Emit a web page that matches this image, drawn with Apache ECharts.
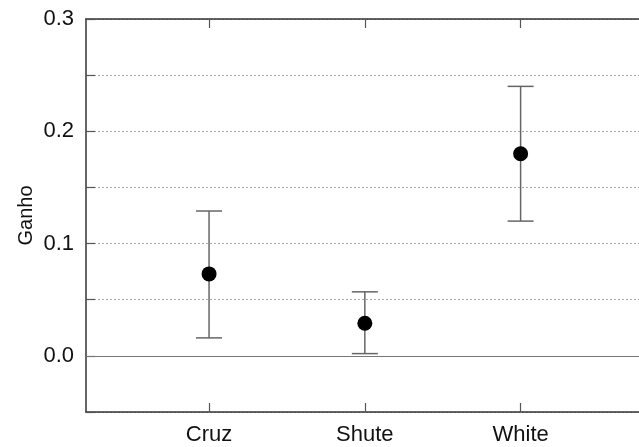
<!DOCTYPE html>
<html>
<head>
<meta charset="utf-8">
<script src="https://cdn.jsdelivr.net/npm/echarts@6/dist/echarts.min.js"></script>
<style>html,body{margin:0;padding:0;background:#fff}#c{width:639px;height:447px}</style>
</head>
<body>
<div id="c"></div>
<script>
const categories = ['Cruz', 'Shute', 'White'];
const xPositions = [1, 2, 3];
const means = [0.073, 0.029, 0.180];
const lower = [0.016, 0.002, 0.120];
const upper = [0.129, 0.057, 0.240];
const yLabelTicks = [0.0, 0.1, 0.2, 0.3];

const chart = echarts.init(document.getElementById('c'));
const font = 'Liberation Sans, Arial, sans-serif';
const axisColor = '#333';

const errData = xPositions.map((x, i) => [x, lower[i], upper[i]]);
const meanData = xPositions.map((x, i) => [x, means[i]]);

chart.setOption({
  animation: false,
  grid: { left: 86, top: 19, bottom: 35, right: -4, containLabel: false },
  xAxis: [{
    type: 'value', min: 0.21, max: 3.76, position: 'bottom',
    axisLine: { show: true, onZero: false, lineStyle: { color: axisColor, width: 1.5 } },
    axisTick: { show: true, inside: true, length: 9, customValues: xPositions, lineStyle: { color: '#555', width: 1.2 } },
    axisLabel: { show: true, customValues: xPositions, margin: 12, fontSize: 22, color: '#111', fontFamily: font,
      formatter: v => categories[xPositions.indexOf(Math.round(v))] || '' },
    splitLine: { show: false }
  }, {
    type: 'value', min: 0.21, max: 3.76, position: 'top',
    axisLine: { show: true, onZero: false, lineStyle: { color: axisColor, width: 1.5 } },
    axisTick: { show: true, inside: true, length: 9, customValues: xPositions, lineStyle: { color: '#555', width: 1.2 } },
    axisLabel: { show: false },
    splitLine: { show: false }
  }],
  yAxis: {
    type: 'value', min: -0.05, max: 0.3, interval: 0.05,
    name: 'Ganho', nameLocation: 'middle', nameGap: 50, nameRotate: 90, nameMoveOverlap: false,
    nameTextStyle: { fontSize: 20, color: '#111', fontFamily: font },
    axisLine: { show: true, onZero: false, lineStyle: { color: axisColor, width: 1.5 } },
    axisTick: { show: true, inside: true, length: 9, lineStyle: { color: '#555', width: 1.2 } },
    axisLabel: { margin: 12, fontSize: 22, color: '#111', fontFamily: font,
      formatter: v => {
        const r = Math.round(v * 100) / 100;
        return yLabelTicks.some(t => Math.abs(t - r) < 1e-6) ? r.toFixed(1) : '';
      } },
    splitLine: { show: true, lineStyle: { color: '#aaa', type: [2, 2], width: 1 } }
  },
  series: [{
    type: 'custom',
    data: errData,
    renderItem: (params, api) => {
      const x = api.value(0);
      const lo = api.coord([x, api.value(1)]);
      const hi = api.coord([x, api.value(2)]);
      const hw = 13;
      const style = { stroke: '#666', lineWidth: 1.5 };
      return { type: 'group', children: [
        { type: 'line', shape: { x1: lo[0], y1: lo[1], x2: hi[0], y2: hi[1] }, style },
        { type: 'line', shape: { x1: lo[0] - hw, y1: lo[1], x2: lo[0] + hw, y2: lo[1] }, style },
        { type: 'line', shape: { x1: hi[0] - hw, y1: hi[1], x2: hi[0] + hw, y2: hi[1] }, style }
      ] };
    },
    z: 2
  }, {
    type: 'scatter',
    data: meanData,
    symbol: 'circle', symbolSize: 15,
    itemStyle: { color: '#000', opacity: 1 },
    z: 3,
    markLine: {
      silent: true, symbol: ['none', 'none'], label: { show: false },
      lineStyle: { color: '#777', type: 'solid', width: 1.2 },
      data: [{ yAxis: 0 }]
    }
  }]
});
</script>
</body>
</html>
